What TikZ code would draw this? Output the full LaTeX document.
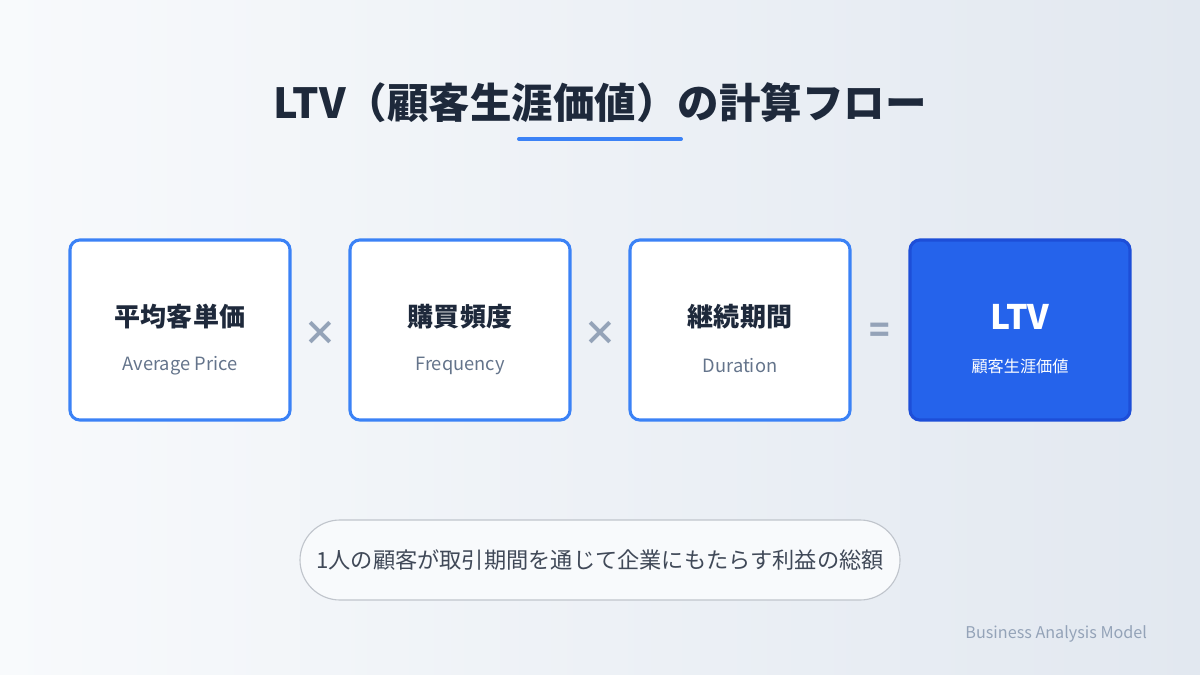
\documentclass[tikz,border=0pt]{standalone}
\usepackage{fontspec}
\setmainfont{Noto Sans CJK JP}
\usetikzlibrary{positioning,shadows}
\definecolor{ink}{HTML}{1E293B}
\definecolor{sub}{HTML}{64748B}
\definecolor{opc}{HTML}{94A3B8}
\definecolor{blu}{HTML}{3B82F6}
\definecolor{bluf}{HTML}{2563EB}
\definecolor{blud}{HTML}{1D4ED8}
\definecolor{bgA}{HTML}{F8FAFC}
\definecolor{bgB}{HTML}{E2E8F0}
\tikzset{
  card/.style={draw=blu, line width=2.2pt, fill=white, rounded corners=7pt,
    minimum width=220*0.025cm, minimum height=180*0.025cm},
  cardhi/.style={card, draw=blud, fill=bluf},
  head/.style={font=\fontsize{18.5}{22}\selectfont\bfseries, text=ink},
  subt/.style={font=\fontsize{13}{15}\selectfont, text=sub},
  op/.style={font=\fontsize{24}{28}\selectfont\bfseries, text=opc}
}
\begin{document}
\begin{tikzpicture}[x=0.025cm,y=-0.025cm]
\useasboundingbox (0,0) rectangle (1200,675);
\shade[left color=bgA, right color=bgB] (0,0) rectangle (1200,675);

% title
\node[font=\fontsize{29.5}{34}\selectfont\bfseries, text=ink] (title) at (600,103) {LTV（顧客生涯価値）の計算フロー};
\draw[blu, line width=2.8pt, line cap=round] (519,139) -- (681,139);

% cards
\node[card] (price) at (180,330) {};
\node[card] (freq) at (460,330) {};
\node[card] (dur) at (740,330) {};
\node[cardhi] (ltv) at (1020,330) {};

\node[head] at (180,317) {平均客単価};
\node[subt] at (180,366) {Average Price};
\node[head] at (460,317) {購買頻度};
\node[subt] at (460,366) {Frequency};
\node[head] at (740,317) {継続期間};
\node[subt] at (740,366) {Duration};
\node[head, text=white, font=\fontsize{24}{28}\selectfont\bfseries] at (1020,317) {LTV};
\node[subt, text=white, font=\fontsize{11.5}{14}\selectfont] at (1020,366) {顧客生涯価値};

% operators
\node[op] (times1) at (320,333) {×};
\node[op] (times2) at (600,333) {×};
\node[op] (eq) at (880,333) {=};

% note
\node[draw=bgB!85!black, fill=bgA, line width=0.8pt, rounded corners=40*0.025cm,
  minimum width=600*0.025cm, minimum height=80*0.025cm,
  font=\fontsize{15.8}{18}\selectfont, text=ink!85] (note) at (600,560)
  {1人の顧客が取引期間を通じて企業にもたらす利益の総額};

\node[anchor=east, font=\fontsize{11.5}{13}\selectfont, text=opc] (foot) at (1152,634) {Business Analysis Model};
\end{tikzpicture}
\end{document}
